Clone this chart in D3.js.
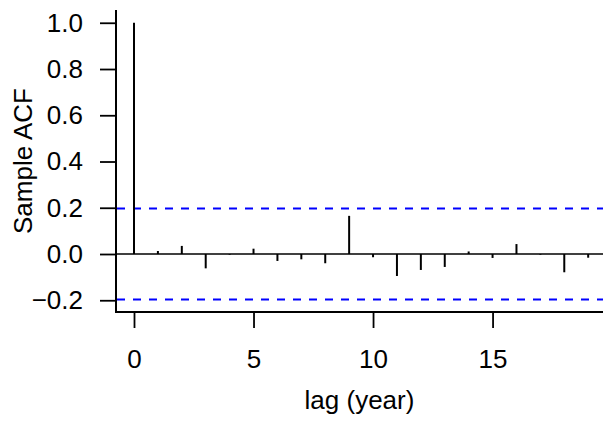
<!DOCTYPE html>
<html>
<head>
<meta charset="utf-8">
<script src="https://cdn.jsdelivr.net/npm/d3@7"></script>
<style>
  body { margin: 0; background: #fff; }
  text { font-family: "Liberation Sans", Arial, sans-serif; }
</style>
</head>
<body>
<div id="graph"></div>
<script>
const w = 603;
const h = 423;

// sample autocorrelation by lag
const lags = [0, 1, 2, 3, 4, 5, 6, 7, 8, 9, 10, 11, 12, 13, 14, 15, 16, 17, 18, 19];
const acf = [1.0, 0.013, 0.035, -0.062, -0.003, 0.023, -0.030, -0.023, -0.040, 0.165,
  -0.014, -0.095, -0.069, -0.056, 0.011, -0.017, 0.043, -0.003, -0.079, -0.016];
const ciBound = 0.197;
const xTicks = [0, 5, 10, 15];
const yTicks = [-0.2, 0, 0.2, 0.4, 0.6, 0.8, 1.0];

const plotLeft = 116, plotTop = 10, plotBottom = 312, plotRight = w;

const xScale = d3.scaleLinear().
domain([-0.753, 19.62]).
range([plotLeft, plotRight]);

const yScale = d3.scaleLinear().
domain([-0.2508, 1.0552]).
range([plotBottom, plotTop]);

const svg = d3.select("#graph").
append("svg").
attr("width", w).
attr("height", h);

// y axis
const yAxis = d3.axisLeft(yScale).
tickValues(yTicks).
tickSize(16).
tickPadding(17).
tickFormat(d3.format(".1f"));

const gy = svg.append("g").
attr("transform", "translate(" + plotLeft + ",0)").
call(yAxis);
gy.select(".domain").remove();
gy.selectAll("line").attr("stroke", "#000").attr("stroke-width", 1.8);
gy.selectAll("text").attr("font-size", 26).attr("fill", "#000").
attr("font-family", "Liberation Sans, Arial, sans-serif");

// x axis
const xAxis = d3.axisBottom(xScale).
tickValues(xTicks).
tickSize(16).
tickPadding(22).
tickFormat(d3.format("d"));

const gx = svg.append("g").
attr("transform", "translate(0," + plotBottom + ")").
call(xAxis);
gx.select(".domain").remove();
gx.selectAll("line").attr("stroke", "#000").attr("stroke-width", 1.8);
gx.selectAll("text").attr("font-size", 26).attr("fill", "#000").
attr("font-family", "Liberation Sans, Arial, sans-serif");

// L shaped box
svg.append("path").
attr("d", "M" + plotLeft + "," + plotTop + "L" + plotLeft + "," + plotBottom + "L" + plotRight + "," + plotBottom).
attr("fill", "none").
attr("stroke", "#000").
attr("stroke-width", 2);

// zero line
svg.append("line").
attr("x1", plotLeft).attr("x2", plotRight).
attr("y1", yScale(0)).attr("y2", yScale(0)).
attr("stroke", "#000").
attr("stroke-width", 1.6);

// confidence bounds
svg.selectAll(".ci").
data([ciBound, -ciBound]).
enter().
append("line").
attr("class", "ci").
attr("x1", plotLeft + 1).attr("x2", plotRight).
attr("y1", d => yScale(d)).attr("y2", d => yScale(d)).
attr("stroke", "#0000ff").
attr("stroke-width", 2).
attr("stroke-dasharray", "8,8");

// acf spikes
svg.selectAll(".spike").
data(lags).
enter().
append("line").
attr("class", "spike").
attr("x1", (d, i) => xScale(d)).
attr("x2", (d, i) => xScale(d)).
attr("y1", yScale(0)).
attr("y2", (d, i) => yScale(acf[i])).
attr("stroke", "#000").
attr("stroke-width", 2);

// titles
svg.append("text").
attr("transform", "translate(32," + (plotTop + plotBottom) / 2 + ") rotate(-90)").
attr("text-anchor", "middle").
attr("font-size", 26).
text("Sample ACF");

svg.append("text").
attr("x", (plotLeft + plotRight) / 2).
attr("y", 409).
attr("text-anchor", "middle").
attr("font-size", 26).
text("lag (year)");
</script>
</body>
</html>
